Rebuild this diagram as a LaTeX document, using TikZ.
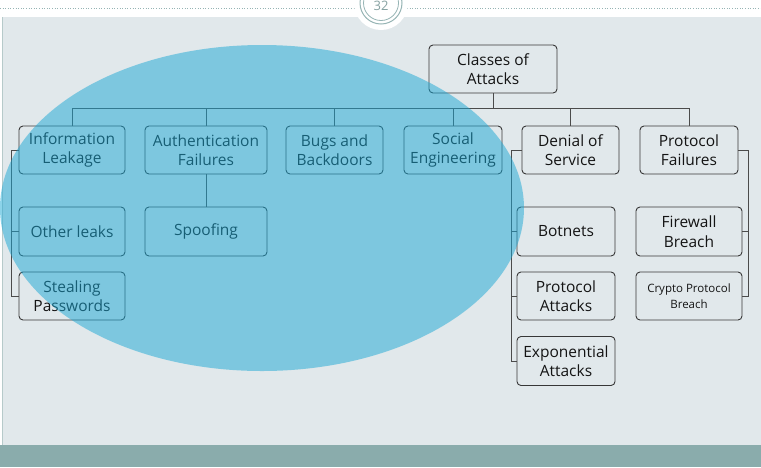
\documentclass[tikz,border=0pt]{standalone}
\usepackage{fontspec}
\setmainfont{Open Sans}
\usetikzlibrary{calc}
\begin{document}
\begin{tikzpicture}[x=1pt,y=-1pt,
  box/.style={draw=boxline,line width=0.9pt,rounded corners=4pt,align=center,inner sep=0pt,
    minimum height=48pt,font=\fontsize{15.5}{19.5}\selectfont,text=txt},
  conn/.style={draw=connline,line width=0.9pt}]
\definecolor{panel}{RGB}{225,232,235}
\definecolor{bottombar}{RGB}{138,172,172}
\definecolor{boxline}{RGB}{55,55,55}
\definecolor{connline}{RGB}{75,75,75}
\definecolor{txt}{RGB}{20,20,20}
\definecolor{ell}{RGB}{27,168,213}
\definecolor{ring}{RGB}{150,180,180}
\useasboundingbox (0,0) rectangle (761,467);
% background
\fill[white] (0,0) rectangle (761,467);
\fill[panel] (3,17) rectangle (761,445);
\draw[ring!70,line width=0.6pt] (2.5,17) -- (2.5,445);
\fill[bottombar] (0,445) rectangle (761,467);
\draw[ring,line width=0.6pt,dotted] (0,8) -- (355,8);
\draw[ring,line width=0.6pt,dotted] (407,8) -- (761,8);
\fill[white] (381,3) circle (27);
\draw[ring,line width=1pt] (381,3) circle (21);
\draw[ring,line width=0.8pt] (381,3) circle (17.5);
\node[text=ring!90!black,font=\fontsize{13}{13}\selectfont] (pg) at (381,6) {32};
% nodes
\node[box,minimum width=128pt] (root) at (493,69) {Classes of\\Attacks};
\node[box,minimum width=106pt] (il) at (72,150) {Information\\Leakage};
\node[box,minimum width=122pt] (af) at (206,150) {Authentication\\Failures};
\node[box,minimum width=97pt] (bb) at (334.5,150) {Bugs and\\Backdoors};
\node[box,minimum width=98pt] (se) at (453,150) {Social\\Engineering};
\node[box,minimum width=97pt] (dos) at (570.5,150) {Denial of\\Service};
\node[box,minimum width=98pt] (pf) at (689,150) {Protocol\\Failures};
\node[box,minimum width=106pt,minimum height=49pt] (ol) at (72,231.5) {Other leaks};
\node[box,minimum width=106pt] (stp) at (72,296) {Stealing\\Passwords};
\node[box,minimum width=122pt,minimum height=49pt] (spf) at (206,231.5) {Spoofing};
\node[box,minimum width=98pt,minimum height=49pt] (bot) at (566,231.5) {Botnets};
\node[box,minimum width=98pt] (pa) at (566,296) {Protocol\\Attacks};
\node[box,minimum width=98pt,minimum height=49pt] (ea) at (566,361) {Exponential\\Attacks};
\node[box,minimum width=106pt,minimum height=49pt] (fb) at (689,231.5) {Firewall\\Breach};
\node[box,minimum width=106pt,font=\fontsize{11.5}{16}\selectfont] (cpb) at (689,296) {Crypto Protocol\\Breach};
% connectors
\coordinate (bus) at ($(root.south)+(0,15)$);
\draw[conn] (root.south) -- (bus);
\foreach \n in {il,af,bb,se,dos,pf} \draw[conn] (\n.north) |- (bus);
\draw[conn] (af.south) -- (spf.north);
\draw[conn] (il.west) -- ++(-7,0) |- (ol.west);
\draw[conn] (il.west) -- ++(-7,0) |- (stp.west);
\draw[conn] (dos.west) -- ++(-10,0) |- (bot.west);
\draw[conn] (dos.west) -- ++(-10,0) |- (pa.west);
\draw[conn] (dos.west) -- ++(-10,0) |- (ea.west);
\draw[conn] (pf.east) -- ++(10,0) |- (fb.east);
\draw[conn] (pf.east) -- ++(10,0) |- (cpb.east);
% overlay ellipse
\fill[ell,fill opacity=0.5] (262,208) ellipse [x radius=262,y radius=163];
\end{tikzpicture}
\end{document}
